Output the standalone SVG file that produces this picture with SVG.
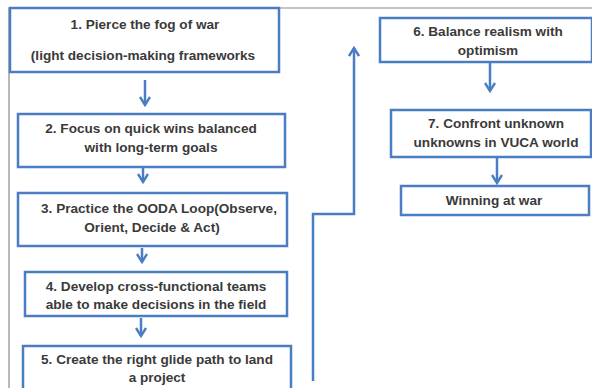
<svg xmlns="http://www.w3.org/2000/svg" width="592" height="388" viewBox="0 0 592 388">
<defs>
<style>
.box{fill:#fff;stroke:#4a7dc3;stroke-width:2.5}
.t{font-family:"Liberation Sans",Arial,sans-serif;font-weight:bold;font-size:13.6px;fill:#3a3a3a;text-anchor:middle}
.c{fill:none;stroke:#4a7dc3;stroke-width:2.5}
.frame{fill:none;stroke:#8a8a8a;stroke-width:1.2}
</style>
<marker id="ah" viewBox="0 0 12 12" refX="10" refY="6" markerWidth="12" markerHeight="12" markerUnits="userSpaceOnUse" orient="auto">
<polyline points="2,1 10,6 2,11" fill="none" stroke="#4a7dc3" stroke-width="2.4"/>
</marker>
</defs>
<rect width="592" height="388" fill="#fff"/>
<path class="frame" d="M9,388 V8 H592"/>
<g id="connectors">
<line class="c" x1="145" y1="80" x2="145" y2="105" marker-end="url(#ah)"/>
<line class="c" x1="143" y1="168" x2="143" y2="182" marker-end="url(#ah)"/>
<line class="c" x1="142" y1="248" x2="142" y2="262" marker-end="url(#ah)"/>
<line class="c" x1="141" y1="318" x2="141" y2="336" marker-end="url(#ah)"/>
<path class="c" d="M313,381 V214 H354 V48" marker-end="url(#ah)"/>
<line class="c" x1="490" y1="63" x2="490" y2="91" marker-end="url(#ah)"/>
<line class="c" x1="497" y1="158" x2="497" y2="183" marker-end="url(#ah)"/>
</g>
<g id="node1">
<rect class="box" x="10" y="8" width="269" height="64"/>
<text class="t" x="145" y="29">1. Pierce the fog of war</text>
<text class="t" x="143" y="60">(light decision-making frameworks</text>
</g>
<g id="node2">
<rect class="box" x="18" y="114" width="267" height="53"/>
<text class="t" x="151" y="133">2. Focus on quick wins balanced</text>
<text class="t" x="151" y="152">with long-term goals</text>
</g>
<g id="node3">
<rect class="box" x="18" y="193" width="269" height="53"/>
<text class="t" x="159" y="213">3. Practice the OODA Loop(Observe,</text>
<text class="t" x="152" y="232">Orient, Decide &amp; Act)</text>
</g>
<g id="node4">
<rect class="box" x="25" y="272" width="262" height="44"/>
<text class="t" x="156" y="291">4. Develop cross-functional teams</text>
<text class="t" x="156" y="309">able to make decisions in the field</text>
</g>
<g id="node5">
<rect class="box" x="23" y="346" width="268" height="50"/>
<text class="t" x="157" y="364">5. Create the right glide path to land</text>
<text class="t" x="157" y="382">a project</text>
</g>
<g id="node6">
<rect class="box" x="380" y="18" width="212" height="44"/>
<text class="t" x="488" y="36">6. Balance realism with</text>
<text class="t" x="488" y="55">optimism</text>
</g>
<g id="node7">
<rect class="box" x="391" y="110" width="200" height="47"/>
<text class="t" x="496" y="128">7. Confront unknown</text>
<text class="t" x="496" y="147">unknowns in VUCA world</text>
</g>
<g id="node8">
<rect class="box" x="401" y="186" width="188" height="29"/>
<text class="t" x="494" y="205">Winning at war</text>
</g>
</svg>
